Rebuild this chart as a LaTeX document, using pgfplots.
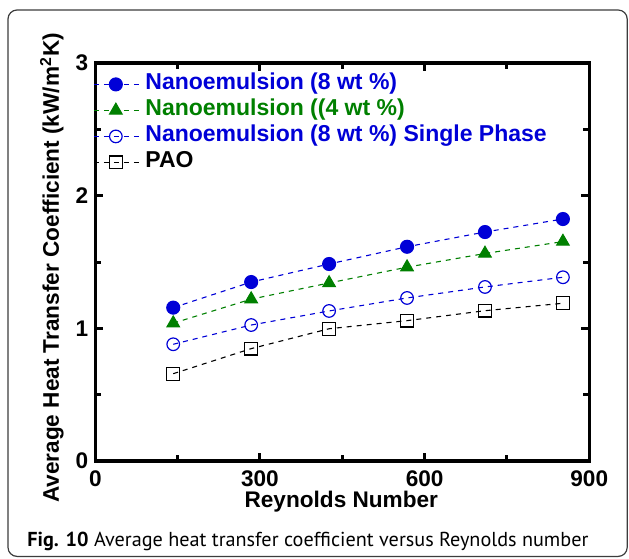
\documentclass[border=0pt]{standalone}
\usepackage{pgfplots}
\pgfplotsset{compat=1.18}
\usepackage{fontspec}
\setmainfont{Liberation Sans}
\newfontfamily\capfont{PT Sans}
\definecolor{nblue}{RGB}{0,0,215}
\definecolor{ngreen}{RGB}{0,128,0}
\definecolor{framegray}{RGB}{60,60,60}
\newcommand{\lblfont}{\fontsize{11.3}{13}\selectfont\bfseries}
\begin{document}
\begin{tikzpicture}
\path[use as bounding box] (0,0) rectangle (314.5pt,-279.5pt);
\draw[framegray, line width=0.6pt, rounded corners=4.5pt] (4pt,-5pt) rectangle (313.6pt,-278.2pt);
\begin{axis}[
  at={(47.65pt,-230.5pt)}, anchor=south west,
  scale only axis, width=247pt, height=199pt,
  xmin=0, xmax=900, ymin=0, ymax=3,
  xtick={0,300,600,900}, minor xtick={150,450,750},
  ytick={0,1,2,3}, minor ytick={0.5,1.5,2.5},
  tick align=inside, major tick length=4pt, minor tick length=3pt,
  every tick/.style={black, line width=1.5pt},
  axis line style={line width=1.7pt},
  ticklabel style={font=\lblfont},
  label style={font=\lblfont},
  /pgf/number format/assume math mode=true,
  xticklabel style={anchor=base, yshift=-12.85pt},
  yticklabel style={anchor=east},
  xlabel={Reynolds Number},
  ylabel={Average Heat Transfer Coefficient (kW/m\textsuperscript{2}K)},
  xlabel style={at={(axis description cs:0.498,-0.118)}, anchor=base},
  ylabel style={at={(axis description cs:-0.0735,0.485)}, anchor=base},
  legend style={draw=none, fill=none, at={(rel axis cs:0,1)}, xshift=-1.2pt, yshift=-4pt,
    anchor=north west, inner sep=0pt, row sep=0pt,
    font=\fontsize{11.5}{13}\selectfont\bfseries,
    nodes={inner sep=0pt, text height=9pt, text depth=4pt},
    /tikz/every odd column/.append style={column sep=2pt}},
  legend cell align=left,
  legend image code/.code={
    \draw[mark repeat=2, mark phase=2, #1] plot coordinates {(0pt,0pt) (11pt,0pt) (23.5pt,0pt)};
  },
  every axis plot/.append style={line width=0.55pt, dash pattern=on 2.5pt off 2.5pt},
]
\addplot[nblue, mark=*, mark size=3.25pt, mark options={solid, fill=nblue}]
  coordinates {(142,1.156) (284,1.349) (426,1.485) (568,1.615) (710,1.726) (852,1.824)};
\addlegendentry{\textcolor{nblue}{Nanoemulsion (8 wt \%)}}
\addplot[ngreen, mark=triangle*, mark size=3.6pt, mark options={solid, fill=ngreen}]
  coordinates {(142,1.039) (284,1.220) (426,1.342) (568,1.461) (710,1.564) (852,1.654)};
\addlegendentry{\textcolor{ngreen}{Nanoemulsion ((4 wt \%)}}
\addplot[nblue, mark=o, mark size=3.15pt, mark options={solid, line width=0.6pt}]
  coordinates {(142,0.880) (284,1.025) (426,1.131) (568,1.229) (710,1.312) (852,1.385)};
\addlegendentry{\textcolor{nblue}{Nanoemulsion (8 wt \%) Single Phase}}
\addplot[black, mark=square, mark size=3.2pt, mark options={solid, line width=0.6pt}]
  coordinates {(142,0.658) (284,0.847) (426,0.997) (568,1.058) (710,1.133) (852,1.189)};
\addlegendentry{PAO}
\end{axis}
\node[anchor=base west, inner sep=0pt] at (13.5pt,-273.3pt)
  {\resizebox{280.5pt}{!}{\capfont\fontsize{10}{12}\selectfont\textbf{Fig. 10} Average heat transfer coefficient versus Reynolds number}};
\end{tikzpicture}
\end{document}
